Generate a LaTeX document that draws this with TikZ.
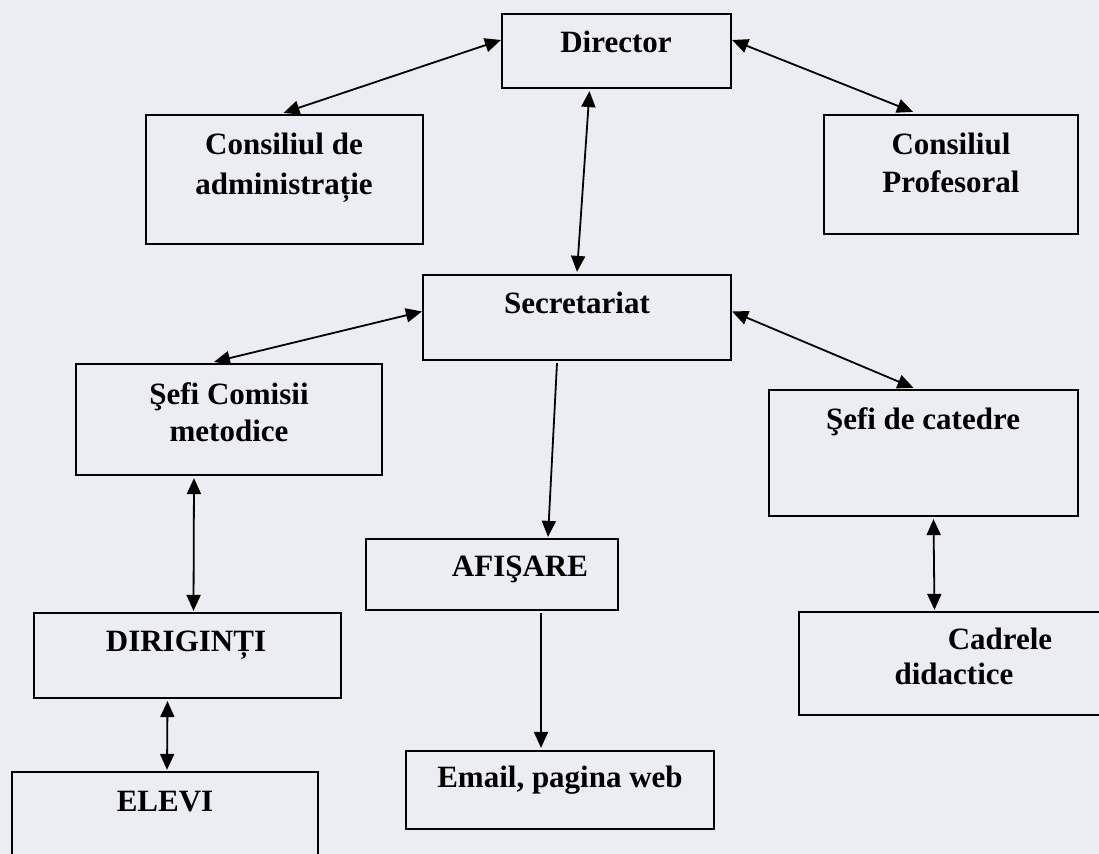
\documentclass[tikz,border=0pt]{standalone}
\usepackage{fontspec}
\setmainfont{Liberation Serif}
\usetikzlibrary{fit,calc,arrows.meta}
\definecolor{paper}{RGB}{236,237,243}
\begin{document}
\begin{tikzpicture}[x=0.5pt,y=-0.5pt,
  box/.style={draw, line width=1.1pt, inner sep=0pt},
  lbl/.style={font=\fontsize{15.5}{20}\selectfont\bfseries, anchor=base, inner sep=0pt},
  tip/.style={Triangle[length=8pt,width=7pt]},
  link/.style={line width=0.9pt, {Triangle[length=8pt,width=7pt]}-{Triangle[length=8pt,width=7pt]}},
  oneway/.style={line width=0.9pt, -{Triangle[length=8pt,width=7pt]}}]
\useasboundingbox (0,0) rectangle (1099,854);
\fill[paper] (0,0) rectangle (1099,854);
\begin{scope}
\clip (0,0) rectangle (1099,854);
% boxes
\node[box, fit={(502,14)(731,88)}] (dir) {};
\node[box, fit={(146,115)(423,244)}] (cda) {};
\node[box, fit={(824,115)(1078,234)}] (cp) {};
\node[box, fit={(423,275)(731,360)}] (sec) {};
\node[box, fit={(76,364)(382,475)}] (sfc) {};
\node[box, fit={(769,390)(1078,516)}] (sdc) {};
\node[box, fit={(366,539)(618,610)}] (afi) {};
\node[box, fit={(34,613)(341,698)}] (diri) {};
\node[box, fit={(799,612)(1110,715)}] (cad) {};
\node[box, fit={(12,772)(318,870)}] (elevi) {};
\node[box, fit={(406,751)(714,829)}] (email) {};
% labels
\node[lbl] (tdir) at (616,53) {Director};
\node[lbl] (tcda1) at (284,155) {Consiliul de};
\node[lbl] (tcda2) at (284,195) {administrație};
\node[lbl] (tcp1) at (951,155) {Consiliul};
\node[lbl] (tcp2) at (951,193) {Profesoral};
\node[lbl] (tsec) at (577,314) {Secretariat};
\node[lbl] (tsfc1) at (229,405) {Şefi Comisii};
\node[lbl] (tsfc2) at (229,442) {metodice};
\node[lbl] (tsdc) at (923,430) {Şefi de catedre};
\node[lbl] (tafi) at (520,577) {AFIŞARE};
\node[lbl] (tdiri) at (186,652) {DIRIGINȚI};
\node[lbl] (tcad1) at (1000,650) {Cadrele};
\node[lbl] (tcad2) at (954,685) {didactice};
\node[lbl] (televi) at (165,812) {ELEVI};
\node[lbl] (temail) at (560,788) {Email, pagina web};
% connectors
\draw[link] ($(dir.west)+(0,-11)$) -- ($(cda.north)+(-1,-1)$);
\draw[link] ($(dir.east)+(0,-11)$) -- ($(cp.north)+(-38,-2)$);
\draw[link] ($(dir.south)+(-27,2)$) -- ($(sec.north)+(0,-2)$);
\draw[link] ($(sec.west)+(0,-6)$) -- ($(sfc.north)+(-15,-1)$);
\draw[link] ($(sec.east)+(0,-6)$) -- ($(sdc.north)+(-10,-1)$);
\draw[oneway] ($(sec.south)+(-20,2)$) -- ($(afi.north)+(56,-1)$);
\draw[link] ($(sfc.south)+(-35,2)$) -- ($(diri.north)+(6,-1)$);
\draw[link] ($(sdc.south)+(10,2)$) -- ($(cad.north)+(-20,-1)$);
\draw[link] ($(diri.south)+(-20,2)$) -- ($(elevi.north)+(2,-1)$);
\draw[oneway] ($(afi.south)+(49,2)$) -- ($(email.north)+(-19,-2)$);
\end{scope}
\end{tikzpicture}
\end{document}
